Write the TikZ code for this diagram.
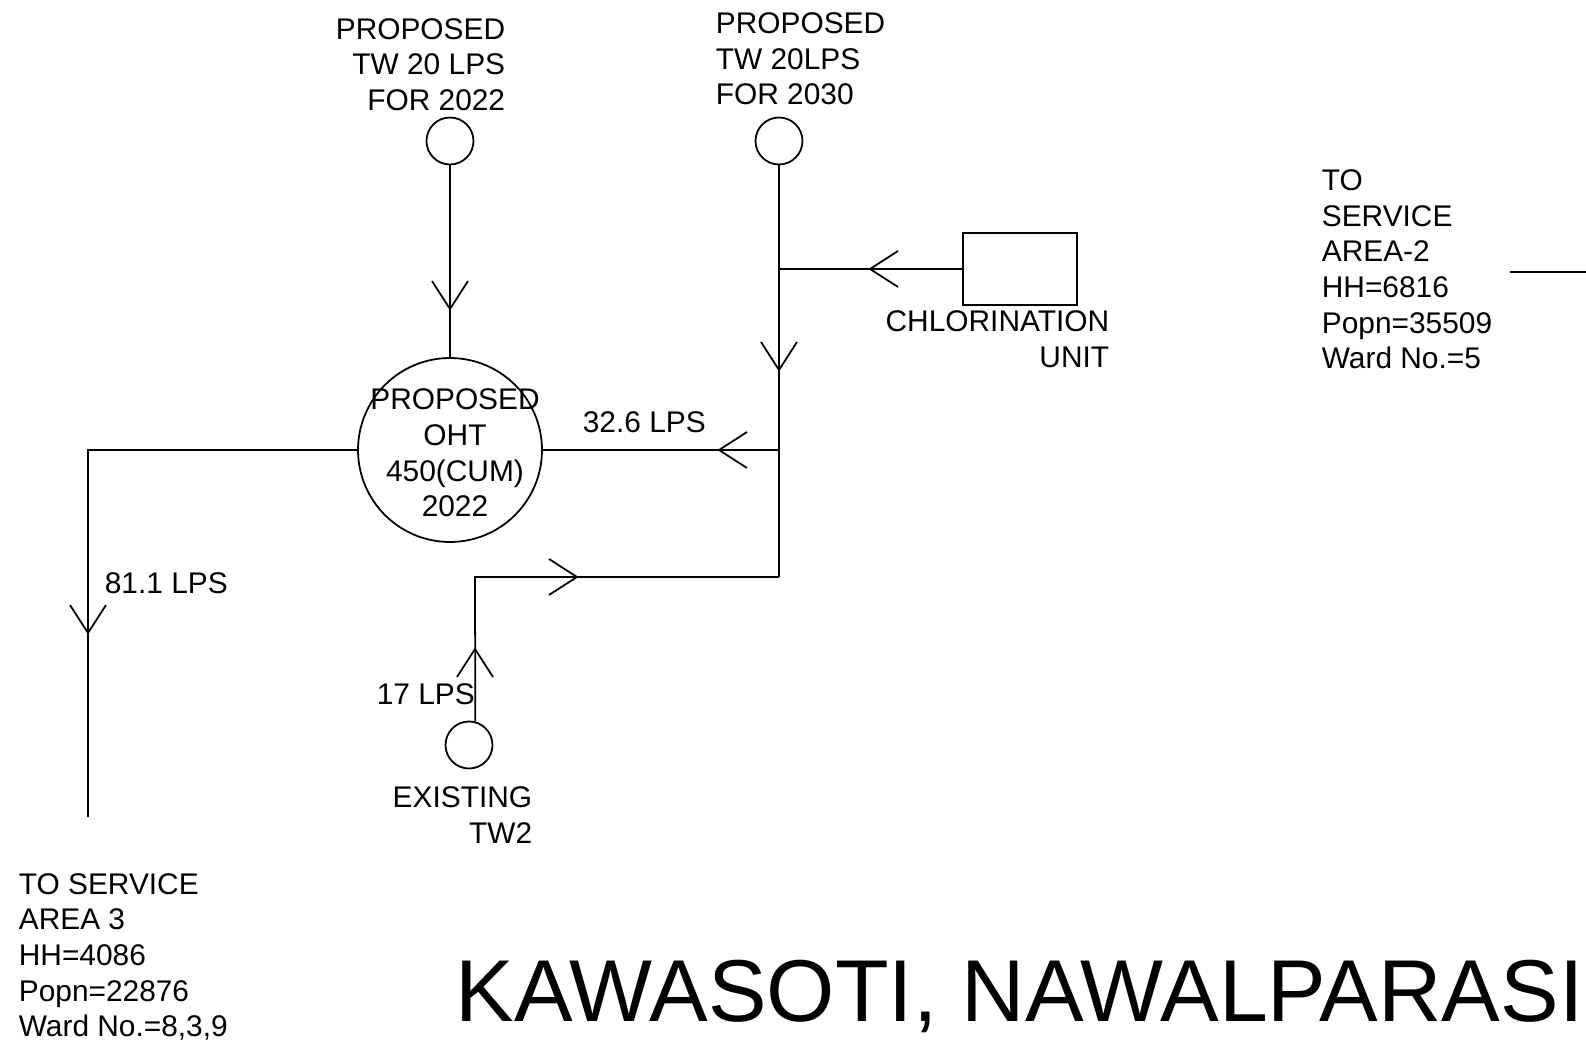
\documentclass[tikz,border=0pt]{standalone}
\usepackage{fontspec}
\setmainfont{Liberation Sans}
\begin{document}
\begin{tikzpicture}[x=0.02cm,y=-0.02cm,line width=1pt,
  lbl/.style={inner sep=0pt,font=\fontsize{17}{20.3}\selectfont},
  well/.style={circle,draw,minimum size=0.94cm,inner sep=0pt},
  pipe/.style={draw},
  vee/.pic={\draw (-28,18) -- (0,0) -- (-28,-18);}]
\useasboundingbox (0,0) rectangle (1586,1050);
% nodes
\node[well] (tw1) at (450,141) {};
\node[well] (tw2) at (779,141) {};
\node[well] (ex) at (469,745) {};
\node[circle,draw,minimum size=3.68cm,inner sep=0pt] (oht) at (450,450) {};
\node[draw,minimum width=2.28cm,minimum height=1.44cm,inner sep=0pt] (cl) at (1020,269) {};
% junctions
\coordinate (j1) at (779,269);
\coordinate (j2) at (779,450);
\coordinate (j3) at (779,577);
\coordinate (c4) at (475,577);
\coordinate (c5) at (88,450);
\coordinate (e5) at (88,817);
\coordinate (s1) at (1510,272);
\coordinate (s2) at (1586,272);
% connectors
\draw[pipe] (tw1.south) -- (oht.north);
\draw[pipe] (tw2.south) -- (j1) -- (j2) -- (j3);
\draw[pipe] (cl.west) -- (j1);
\draw[pipe] (j2) -- (oht.east);
\draw[pipe] (ex.75) -- (c4) -- (j3);
\draw[pipe] (oht.west) -- (c5) -- (e5);
\draw[pipe] (s1) -- (s2);
% arrow heads
\pic[rotate=-90] at (450,309) {vee};
\pic[rotate=-90] at (779,370) {vee};
\pic[rotate=180] at (870,269) {vee};
\pic[rotate=180] at (719,450) {vee};
\pic at (577,577) {vee};
\pic[rotate=90] at (475,649) {vee};
\pic[rotate=-90] at (88,633) {vee};
% labels
\node[lbl,anchor=east,align=right] (t1) at (506,64.5) {PROPOSED\\TW 20 LPS\\FOR 2022};
\node[lbl,anchor=west,align=left] (t2) at (715,59) {PROPOSED\\TW 20LPS\\FOR 2030};
\node[lbl,align=center] (t3) at (455,453) {PROPOSED\\OHT\\450(CUM)\\2022};
\node[lbl,anchor=east,align=right] (t4) at (1110,339.5) {CHLORINATION\\UNIT};
\node[lbl,anchor=base west] (t5) at (582,432.7) {32.6 LPS};
\node[lbl,anchor=base west] (t6) at (104,593.7) {81.1 LPS};
\node[lbl,anchor=base west] (t7) at (376,704.7) {17 LPS};
\node[lbl,anchor=east,align=right] (t8) at (533,815) {EXISTING\\TW2};
\node[lbl,anchor=west,align=left] (t9) at (18,957) {TO SERVICE\\AREA 3\\HH=4086\\Popn=22876\\Ward No.=8,3,9};
\node[lbl,anchor=west,align=left] (t10) at (1321,269.5) {TO\\SERVICE\\AREA-2\\HH=6816\\Popn=35509\\Ward No.=5};
\node[inner sep=0pt,anchor=base west,font=\fontsize{50}{60}\selectfont] (title) at (455,1021) {KAWASOTI, NAWALPARASI};
\end{tikzpicture}
\end{document}
